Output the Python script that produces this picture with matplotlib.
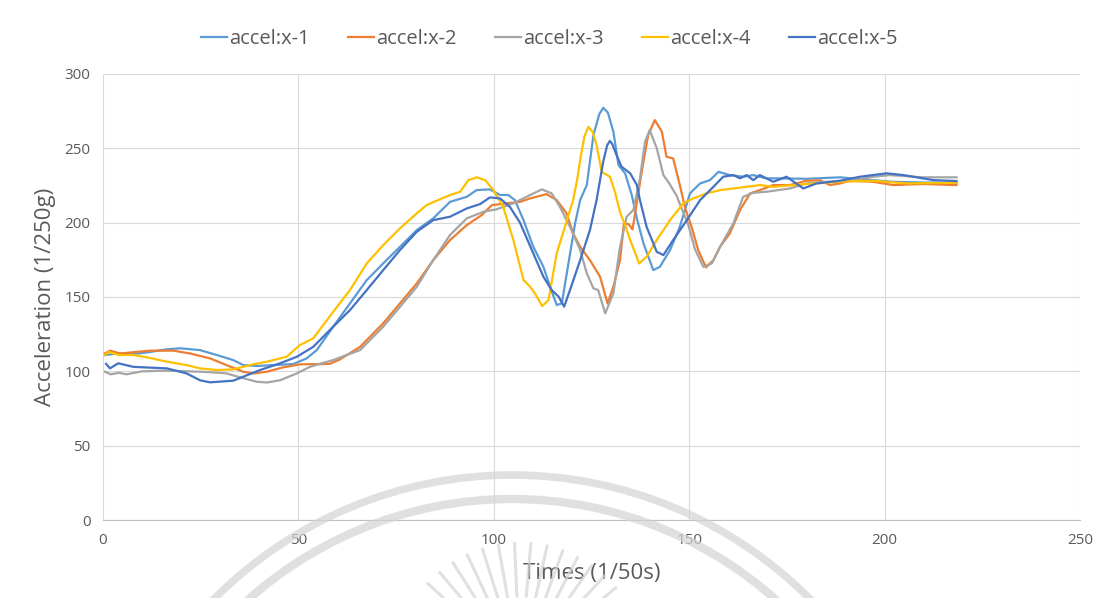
import matplotlib
matplotlib.use("Agg")
import numpy as np
import matplotlib.pyplot as plt
from matplotlib.patches import Arc

plt.rcParams['font.family'] = ['Open Sans', 'DejaVu Sans']

# accel:x-1
x1 = [0.5, 4, 7.8, 12, 16.3, 19.7, 24.8, 29.1, 33.3, 35.9, 39.3, 43.6, 48.7, 52.1, 54.7,
      58.9, 63.2, 67.5, 71.7, 76, 80.3, 84.5, 88.8, 93.1, 95.6, 99, 101.6, 103.7, 105.4,
      107.6, 110.1, 112.7, 114.4, 116.1, 117.4, 119.1, 120.8, 122.1, 123.8, 125.5, 127,
      128, 129.2, 130.6, 131.9, 133.6, 135.3, 136.6, 138.3, 140.8, 142.5, 145.1, 147.6,
      150.2, 152.8, 155.3, 157.5, 160.4, 163.8, 166.4, 169.8, 173.2, 180, 188.6, 195,
      202.2, 210, 218.4]
y1 = [111, 112, 111.6, 113, 114.8, 115.5, 114.3, 111, 107.6, 104.2, 103.6, 104.2, 104.9, 108.7, 114.3,
      130, 145.7, 161.4, 172.6, 183.8, 195, 202.9, 214, 217.4, 221.9, 222.4, 218.6, 218.6, 215.2,
      201.7, 183.8, 170.3, 156.9, 144.6, 145.7, 172.6, 199.5, 215.2, 225.3, 259, 273,
      277.3, 274, 261.2, 238.7, 233.2, 218.6, 202.9, 186.1, 168.1, 170.3, 181.6, 197.2,
      219.7, 226.4, 228.6, 234.2, 232, 230.9, 232, 229.8, 229.8, 229.5, 230.5, 229,
      227.5, 227, 226.8]

# accel:x-2
x2 = [0.5, 1.8, 4.4, 12, 18, 22.3, 27.4, 31.6, 35.9, 38.5, 41.9, 46.1, 50.4, 55.5, 58,
      60.6, 65.8, 71.7, 76, 80.3, 84.5, 88.8, 93.1, 96.9, 99.5, 103.3, 106.7, 109.3, 113.5,
      116.1, 118.6, 120.3, 122.1, 124.6, 127.2, 129.1, 130.6, 132.3, 133.3, 134.5, 135.5,
      136.5, 138, 139.5, 141.2, 143, 144.2, 145.9, 147.6, 149, 150.6, 152.3, 154.3, 156.2,
      157.9, 160.4, 163, 165.6, 168.1, 171.5, 175.8, 180, 183.5, 186, 188.6, 191.1, 197.1,
      202.2, 209.9, 218.4]
y2 = [112, 113.9, 112, 113.9, 113.9, 112, 108.7, 104.2, 99.7, 98.6, 99.7, 102.7, 104.7, 104.9, 105,
      108, 116.5, 132.3, 145.7, 159.2, 174.8, 188.3, 198.4, 205.1, 211.8, 213, 214, 216.3, 219.2,
      215.2, 206.3, 192.8, 183.8, 174.8, 163.6, 145.7, 156.9, 174.8, 199.5, 199, 195.5,
      212, 236.5, 258.9, 269, 261.2, 244.3, 243.2, 225.3, 209.6, 197.2, 181.6, 169.9, 174.8,
      183.8, 192.8, 208.5, 219.7, 221.9, 225.3, 225.3, 228.2, 228.5, 225.3, 226.4, 228.2, 227.5,
      225.3, 226, 225.3]

# accel:x-3
x3 = [0.5, 2, 4, 6, 10, 16, 22, 27, 31.6, 35, 39.3, 42, 45.3, 49.6, 53, 58.9, 65.8, 71.7,
      76, 80.3, 84.5, 88.8, 93.1, 97.3, 100.7, 105, 109.3, 112.3, 114.8, 116.9, 119.5, 122.1,
      123.8, 125.5, 126.7, 128.5, 130.6, 132.3, 134, 135.7, 137.4, 138.7, 139.9, 141.7,
      143.4, 144.9, 146.8, 148.3, 149.6, 151.5, 153.6, 155.8, 157.9, 161.3, 163.8, 166.4,
      169.8, 175.8, 180, 185.2, 191.1, 197.1, 201.4, 209.9, 218.4]
y3 = [99.7, 98, 99, 98, 100, 100.5, 100, 99.5, 98.6, 96, 93, 92.5, 94, 98.6, 103.1, 107.6, 114.3, 130,
      143.4, 156.9, 174.8, 191.7, 202.9, 207.3, 209, 213, 218.6, 222.4, 219.7, 210.7, 197.2, 181.6,
      165.9, 155.8, 154.7, 139, 152.5, 183.8, 204, 208.5, 229.8, 254.4, 262.3, 250,
      232, 226.4, 218, 208, 200, 182, 170.3, 172.6, 183.8, 199.5, 217.4, 220.1,
      220.8, 223, 226.4, 227.5, 228.2, 230.9, 232, 230.5, 230.5]

# accel:x-4
x4 = [0.5, 1.5, 4, 7.8, 12, 16.3, 21.4, 24.8, 29.1, 33.3, 37.6, 41.9, 47, 50.4, 53.8,
      58.9, 63.2, 67.5, 71.7, 76, 80.3, 82.8, 86.2, 88.8, 91.4, 93.5, 95.6, 97.8, 99.9,
      102.4, 105, 107.6, 109.3, 110.5, 112.4, 114, 116.1, 118.2, 120.3, 121.4, 122.3,
      123.2, 124.2, 125.3, 126.3, 127.6, 129.7, 131, 132.3, 133.6, 134.9, 137.2, 139.1,
      141.7, 145.1, 148.5, 151, 154.5, 157.9, 161.3, 164.7, 168.1, 171.5, 180, 188.6,
      197.1, 205.6, 218.4]
y4 = [111, 113, 111, 111, 109, 106.5, 104.2, 102, 100.9, 101.3, 104.2, 106.5, 109.8, 117.7, 122.2,
      140, 154.7, 172.6, 184.9, 196.2, 206.3, 211.8, 215.7, 218.6, 220.8, 228.6, 230.5, 228.6, 221.9,
      210.7, 188.3, 161.4, 156.9, 152.5, 143.9, 148, 179.4, 197.2, 215.2, 230, 245.5,
      258, 264.5, 261, 252.2, 234.2, 230.9, 220.8, 207, 198.4, 188.3, 172.6, 177.1,
      188.3, 201.7, 213, 216.3, 219.7, 221.9, 223, 224.1, 225.3, 224.1, 226, 227.5,
      228.2, 226.4, 226.8]

# accel:x-5
x5 = [0.8, 1.8, 3.9, 7.8, 16.3, 21.4, 24.8, 27.4, 33.3, 35.9, 40.2, 45.3, 49.6, 53.8, 58.9,
      63.2, 67.5, 71.7, 76, 80.3, 84.5, 88.8, 93.1, 96.5, 99, 101.6, 104.1, 106.7, 110.1,
      112.7, 114.8, 116.6, 118, 119.5, 122.1, 124.6, 126.3, 128, 129, 129.7, 130.3, 131.4,
      132.7, 134.9, 136.6, 137.4, 139.1, 141.7, 143.4, 145.9, 149.4, 152.8, 156.2, 158.7,
      161.3, 163, 164.7, 166.4, 168.1, 171.5, 174.9, 179.2, 182.6, 188.6, 193.7, 200.5,
      204.8, 212.5, 218.4]
y5 = [105, 102, 105.4, 103, 102, 98.6, 94, 92.6, 93.7, 96.4, 100.9, 105.4, 109.8, 116.5, 130,
      141.2, 154.7, 168.1, 181.6, 193.9, 201.7, 204, 209.6, 212.5, 217, 216.3, 210.7, 200, 179.4,
      163.6, 154.7, 150.2, 143.5, 154.7, 174.8, 195, 215.2, 241, 252, 255, 253, 245.5,
      237.6, 233.2, 225.3, 215.2, 197.2, 180.4, 178.2, 188.3, 201.7, 215.2, 224.1, 230.9,
      232, 229.8, 232, 228.6, 232, 227.5, 230.9, 223, 226.4, 228.2, 230.9, 233.2,
      232, 228.6, 228]

labels = ['accel:x-1', 'accel:x-2', 'accel:x-3', 'accel:x-4', 'accel:x-5']
colors = ['#5B9BD5', '#ED7D31', '#A5A5A5', '#FFC000', '#4472C4']

fig = plt.figure(figsize=(10.99, 5.98), dpi=100)
ax = fig.add_axes([103/1099, 1 - 520/598, (1080 - 103)/1099, (520 - 74)/598])

for xs, ys, lab, c in zip([x1, x2, x3, x4, x5], [y1, y2, y3, y4, y5], labels, colors):
    ax.plot(xs, ys, color=c, lw=1.6, label=lab, solid_joinstyle='round')

ax.set_xlim(0, 250)
ax.set_ylim(0, 300)
ax.set_xticks(range(0, 251, 50))
ax.set_yticks(range(0, 301, 50))
ax.grid(True, color='#d9d9d9', lw=0.8)
ax.set_axisbelow(True)
for s in ['top', 'right', 'left']:
    ax.spines[s].set_visible(False)
ax.spines['bottom'].set_color('#bfbfbf')
ax.tick_params(length=0, labelsize=11, labelcolor='#595959', pad=9)

ax.set_xlabel('Times (1/50s)', fontsize=16, color='#595959', labelpad=11)
ax.set_ylabel('Acceleration (1/250g)', fontsize=16, color='#595959', labelpad=6)

fig.legend(loc='center', bbox_to_anchor=(0.5, 1 - 39/598), ncol=5, frameon=False,
           fontsize=14.5, labelcolor='#595959', handlelength=1.3, handletextpad=0.1,
           columnspacing=1.9)

# faint seal watermark at the bottom
wm = fig.add_axes([0, 0, 1, 1], zorder=5)
wm.set_xlim(0, 1099)
wm.set_ylim(598, 0)
wm.axis('off')
wm.patch.set_alpha(0)
wm.add_patch(Arc((512, 895), 840, 840, theta1=180, theta2=360, color='#d4d4d4', lw=5.5, alpha=0.7))
wm.add_patch(Arc((512, 895), 792, 792, theta1=180, theta2=360, color='#d4d4d4', lw=6, alpha=0.7))
ang = np.radians(np.arange(40, 141, 7.5))
cx, cy = 520, 668
for a in ang:
    wm.plot([cx + 72 * np.cos(a), cx + 125 * np.cos(a)], [cy - 72 * np.sin(a), cy - 125 * np.sin(a)],
            color='#d4d4d4', lw=2.2, alpha=0.7, solid_capstyle='round')

fig.savefig('out.png', dpi=100)
